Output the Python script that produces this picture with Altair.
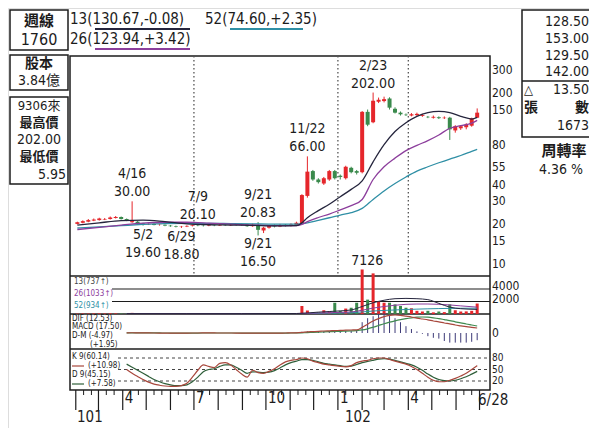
import altair as alt
import pandas as pd

OX, OY = 8, 8
NUM = "'Liberation Sans Narrow','Arial Narrow','DejaVu Sans Condensed','Noto Sans CJK TC',sans-serif"
CJK = "'Noto Sans CJK TC','Noto Sans CJK SC',sans-serif"
RED = "#e5262b"; GREEN = "#3a8a4c"; INK = "#1c1c1c"
C13 = "#25253d"; C26 = "#8c3e9c"; C52 = "#2f8fa5"
CDIF = "#a8473c"; CMACD = "#3f8a4f"; COSC = "#3d3a78"

START = pd.Timestamp("2012-01-31")
week_dates = pd.date_range("2012-02-03", periods=74, freq="7D")

opens = [20.2, 20.6, 21.0, 21.4, 21.6, 21.8, 22.0, 22.4, 22.8, 22.0,
         20.8, 21.0, 20.4, 20.0, 20.2, 19.8, 19.9, 19.6, 19.4, 19.2,
         19.3, 19.5, 19.7, 19.6, 19.5, 19.7, 19.6, 19.8, 19.7, 19.9,
         19.8, 20.0, 19.4, 19.8, 18.0, 18.9, 19.6, 19.3, 19.9, 19.5,
         19.8, 20.5, 33.0, 51.0, 44.0, 41.0, 44.0, 51.0, 47.0, 45.0,
         54.0, 51.0, 50.0, 144.0, 120.0, 172.0, 174.0, 182.0, 152.0, 142.0,
         137.0, 135.0, 136.0, 134.0, 132.0, 130.0, 131.0, 129.0, 130.0, 104.0,
         108.0, 110.0, 113.0, 130.0]
highs = [21.0, 21.5, 22.0, 22.2, 22.5, 22.4, 23.0, 23.2, 23.0, 22.2,
         30.0, 21.2, 20.6, 20.4, 20.4, 20.1, 20.0, 19.8, 19.6, 19.5,
         19.7, 19.9, 20.1, 19.8, 19.9, 19.9, 20.0, 20.0, 20.1, 20.1,
         20.3, 20.2, 20.3, 20.83, 19.2, 19.8, 20.0, 20.2, 20.1, 20.4,
         21.0, 34.0, 66.0, 52.0, 45.0, 46.0, 52.0, 52.0, 48.0, 56.0,
         55.0, 52.0, 146.0, 150.0, 202.0, 185.0, 188.0, 186.0, 156.0, 145.0,
         140.0, 141.0, 142.0, 139.0, 134.0, 135.0, 133.0, 133.0, 132.0, 114.0,
         114.0, 118.0, 130.0, 153.0]
lows = [20.0, 20.4, 20.8, 21.2, 21.4, 21.6, 21.8, 22.2, 21.8, 21.2,
        20.6, 20.2, 19.6, 19.8, 19.7, 19.6, 19.4, 19.2, 19.0, 18.8,
        19.1, 19.3, 19.4, 19.3, 19.4, 19.4, 19.5, 19.5, 19.5, 19.6,
        19.6, 19.2, 19.2, 16.5, 17.2, 18.6, 19.0, 19.1, 19.3, 19.3,
        19.6, 20.2, 32.0, 43.0, 41.0, 40.0, 43.0, 44.0, 44.0, 44.0,
        49.0, 48.0, 49.0, 112.0, 118.0, 168.0, 170.0, 150.0, 140.0, 135.0,
        134.0, 133.0, 134.0, 132.0, 129.0, 128.0, 127.0, 127.0, 88.0, 100.0,
        105.0, 106.0, 111.0, 129.5]
closes = [20.8, 21.2, 21.6, 21.8, 22.2, 22.0, 22.6, 22.8, 22.0, 21.4,
          21.2, 20.4, 20.0, 20.2, 19.8, 19.9, 19.6, 19.4, 19.2, 19.3,
          19.5, 19.7, 19.6, 19.5, 19.7, 19.6, 19.8, 19.7, 19.9, 19.8,
          20.0, 19.4, 19.9, 18.2, 18.9, 19.5, 19.3, 19.8, 19.5, 20.0,
          20.6, 33.5, 50.5, 44.0, 42.0, 45.0, 51.0, 45.0, 46.0, 55.0,
          50.0, 49.5, 144.0, 115.0, 175.0, 178.0, 180.0, 155.0, 142.0, 138.0,
          136.0, 138.0, 139.0, 136.0, 131.0, 132.0, 129.0, 130.0, 106.0, 112.0,
          112.0, 115.0, 128.5, 142.0]
volumes = [60, 80, 70, 90, 100, 80, 110, 90, 70, 60,
           180, 90, 70, 60, 50, 40, 50, 40, 30, 40,
           50, 40, 35, 30, 40, 45, 40, 35, 40, 50,
           45, 60, 50, 150, 90, 60, 50, 45, 55, 60,
           90, 1280, 560, 250, 250, 600, 420, 1800, 500, 870,
           1000, 1800, 7126, 2300, 6500, 2050, 1800, 1800, 1540, 1280,
           1000, 920, 510, 400, 510, 260, 400, 300, 1540, 600,
           400, 420, 510, 1673]

# moving averages (week index -> value)
ma_idx = [0, 4, 8, 12, 16, 20, 24, 28, 32, 36, 40, 41, 42, 44, 46, 48, 50, 52, 54, 56, 58, 60, 62, 64, 66, 68, 70, 72, 73]
ma13 = [19.8, 20.6, 21.4, 21.6, 21.0, 20.2, 19.9, 19.8, 19.7, 19.5, 19.6, 20.6, 22.5, 25.5, 28.5, 32.5, 37, 43, 60, 81, 102, 119, 133, 142, 145, 142, 133, 127, 130.67]
ma26 = [18.3, 19.0, 19.8, 20.5, 20.8, 20.8, 20.5, 20.1, 19.8, 19.6, 19.6, 20.0, 21.0, 22.6, 24.0, 25.8, 27.8, 31, 44, 55, 64, 73, 80, 87, 96, 108, 113, 118, 123.94]
ma52 = [18.8, 19.2, 19.6, 20.0, 20.3, 20.4, 20.4, 20.3, 20.2, 20.1, 20.1, 20.3, 20.6, 21.5, 22.5, 23.6, 24.6, 26.5, 31, 36, 41, 46, 51, 55, 59, 63, 67, 72, 74.60]

vma_idx = [9, 20, 30, 40, 44, 48, 50, 52, 54, 56, 58, 60, 62, 64, 66, 68, 70, 73]
vma13 = [60, 55, 60, 80, 300, 500, 650, 1200, 1800, 2200, 2450, 2500, 2450, 2300, 1700, 1100, 850, 737]
vma26 = [70, 65, 60, 70, 160, 260, 330, 600, 950, 1200, 1400, 1550, 1600, 1600, 1550, 1450, 1300, 1100]
vma52 = [80, 75, 70, 70, 110, 170, 210, 330, 480, 570, 650, 720, 780, 830, 870, 900, 920, 934]

IND_START = 9
dif = [0.5, 0.6, 0.4, 0.2, 0.1, 0, -0.1, -0.2, -0.3, -0.3, -0.2, -0.1, 0, 0, 0.1, 0.1,
       0.1, 0, 0, 0, -0.1, -0.1, -0.2, -0.3, -0.3, -0.2, -0.2, -0.1, -0.1, 0, 0.2, 0.5,
       1.5, 3, 3.5, 4, 5, 5.5, 6, 6.5, 7, 7.5, 8, 14, 22, 30, 36, 41, 44, 45, 44, 42,
       40, 37, 35, 33, 30, 28, 25, 23, 20, 18, 16, 14, 12.53]
macd = [0.4, 0.5, 0.5, 0.4, 0.3, 0.2, 0.1, 0, -0.1, -0.2, -0.2, -0.2, -0.1, -0.1, 0, 0,
        0, 0, 0, 0, 0, -0.1, -0.1, -0.2, -0.2, -0.2, -0.2, -0.2, -0.1, -0.1, 0, 0.1,
        0.4, 0.9, 1.5, 2, 2.6, 3.2, 3.8, 4.3, 4.9, 5.4, 6, 7.6, 10.5, 14.4, 18.7, 23, 27,
        30.5, 33.5, 36, 38, 39.5, 40, 39.5, 38, 36, 33.5, 31, 28, 25.5, 22.5, 20, 17.5]
OSC_START = 41
osc = [3, 4, 4, 4, 4, 4, 4, 4, 5, 5, 6, 27, 37, 42, 48, 50, 45, 37, 27, 17, 10, 4,
       -2, -8, -12, -14, -20, -24, -24, -24, -24, -22, -18]
k_vals = [50, 40, 32, 24, 17, 12, 9, 7, 6, 6, 8, 14, 30, 48, 62, 58, 55, 66, 68, 62,
          50, 38, 30, 48, 42, 40, 45, 52, 62, 70, 74, 76, 80, 78, 72, 68, 64, 62, 60, 58,
          57, 60, 68, 72, 74, 78, 80, 80, 76, 72, 68, 64, 58, 50, 40, 30, 22, 18, 18, 22,
          27, 33, 40, 50, 60.14]
d_vals = [64, 56, 48, 40, 32, 24, 18, 13, 10, 8, 8, 10, 18, 30, 44, 50, 52, 58, 62, 62,
          56, 48, 40, 44, 43, 42, 43, 47, 54, 62, 68, 72, 76, 76, 74, 70, 66, 64, 62, 60,
          58, 59, 63, 68, 71, 74, 77, 78, 77, 74, 70, 66, 62, 56, 48, 38, 30, 24, 21, 20,
          22, 26, 31, 38, 45.15]

# annotations: (week index, price, date text, value text)
high_notes = [(10, 30.0, "4/16", "30.00"), (22, 20.1, "7/9", "20.10"), (33, 20.83, "9/21", "20.83"),
              (42, 66.0, "11/22", "66.00"), (54, 202.0, "2/23", "202.00")]
low_notes = [(12, 19.6, "5/2", "19.60"), (19, 18.8, "6/29", "18.80"), (33, 16.5, "9/21", "16.50")]

price_ticks = [300, 200, 150, 80, 55, 40, 30, 20, 15, 10]
vol_ticks = [4000, 2000]
kd_ticks = [80, 50, 20]
month_labels = [("2012-04-01", "4"), ("2012-07-01", "7"), ("2012-10-01", "10"),
                ("2013-01-01", "1"), ("2013-04-01", "4")]
dotted_dates = ["2012-07-01", "2013-01-01", "2013-04-01"]

# ---------------------------------------------------------------- data frames
days = [(d - START).days for d in week_dates]
cdf = pd.DataFrame({"day": days, "o": opens, "h": highs, "l": lows, "c": closes, "v": volumes})
cdf["col"] = [RED if c >= o else GREEN for o, c in zip(opens, closes)]
cdf["zero"] = 0

madf = pd.DataFrame({"day": [days[i] for i in ma_idx], "m13": ma13, "m26": ma26, "m52": ma52})
vmadf = pd.DataFrame({"day": [days[i] for i in vma_idx], "m13": vma13, "m26": vma26, "m52": vma52})
inddf = pd.DataFrame({"day": days[IND_START:], "dif": dif, "macd": macd, "k": k_vals, "d": d_vals})
oscdf = pd.DataFrame({"day": days[OSC_START:], "osc": osc, "zero": 0})
hidf = pd.DataFrame({"day": [days[i] for i, _, _, _ in high_notes], "p": [p for _, p, _, _ in high_notes],
                     "t1": [a for _, _, a, _ in high_notes], "t2": [b for _, _, _, b in high_notes]})
lodf = pd.DataFrame({"day": [days[i] for i, _, _, _ in low_notes], "p": [p for _, p, _, _ in low_notes],
                     "t1": [a for _, _, a, _ in low_notes], "t2": [b for _, _, _, b in low_notes]})
ptdf = pd.DataFrame({"p": price_ticks, "t": [str(v) for v in price_ticks]})
vtdf = pd.DataFrame({"v": vol_ticks, "t": [str(v) for v in vol_ticks]})
ktdf = pd.DataFrame({"k": kd_ticks, "t": [str(v) for v in kd_ticks]})
mdf = pd.DataFrame({"day": [(pd.Timestamp(d) - START).days for d, _ in month_labels],
                    "t": [t for _, t in month_labels]})
dotdf = pd.DataFrame({"day": [(pd.Timestamp(d) - START).days for d in dotted_dates]})
mstarts = pd.date_range("2012-02-01", "2013-07-01", freq="MS")
longdf = pd.DataFrame({"day": [(d - START).days for d in mstarts]})
shortdf = pd.DataFrame({"day": [(d - START).days + off for d in mstarts.insert(0, pd.Timestamp("2012-01-01"))
                                for off in (10, 20) if 0 <= (d - START).days + off <= 524]})
peakdf = pd.DataFrame({"day": [days[52]], "v": [7126], "t": ["7126"]})

# ---------------------------------------------------------------- scales
X = alt.Scale(domain=[0, 524], range=[70 - OX, 490 - OX], nice=False, zero=False)
YP = alt.Scale(type="log", domain=[10, 300], range=[264 - OY, 70 - OY], nice=False)
YV = alt.Scale(domain=[0, 4000], range=[314 - OY, 289 - OY], nice=False, zero=False)
YM = alt.Scale(domain=[0, 40], range=[333 - OY, 317 - OY], nice=False, zero=False)
YK = alt.Scale(domain=[20, 80], range=[381 - OY, 358 - OY], nice=False, zero=False)

def xq(f="day"):
    return alt.X(f + ":Q", scale=X, axis=None)

def yq(f, s):
    return alt.Y(f + ":Q", scale=s, axis=None)

one = pd.DataFrame({"k": [0]})

def txt(s, x, y, size=15, align="left", color=INK, font=NUM, weight="normal"):
    return alt.Chart(one).mark_text(text=s, align=align, baseline="middle", fontSize=size,
                                    font=font, color=color, fontWeight=weight).encode(
        x=alt.value(x - OX), y=alt.value(y - OY))

def hline(x1, x2, y, color=INK, w=1.3):
    return alt.Chart(one).mark_rule(color=color, strokeWidth=w).encode(
        x=alt.value(x1 - OX), x2=alt.value(x2 - OX), y=alt.value(y - OY))

def box(x1, y1, x2, y2, w=1.5):
    return alt.Chart(one).mark_rect(fillOpacity=0, stroke=INK, strokeWidth=w).encode(
        x=alt.value(x1 - OX), x2=alt.value(x2 - OX), y=alt.value(y1 - OY), y2=alt.value(y2 - OY))

layers = []

# frames
layers += [box(70, 56, 490, 390), hline(70, 490, 276), hline(70, 490, 314), hline(70, 490, 349)]

# dotted verticals
layers.append(alt.Chart(dotdf).mark_rule(color="#555", strokeWidth=1.3, strokeDash=[1.5, 2.5]).encode(
    x=xq(), y=alt.value(56 - OY), y2=alt.value(276 - OY)))

# candles
layers.append(alt.Chart(cdf).mark_rule(strokeWidth=1).encode(
    x=xq(), y=yq("l", YP), y2="h:Q", color=alt.Color("col:N", scale=None)))
layers.append(alt.Chart(cdf).mark_bar(size=4).encode(
    x=xq(), y=yq("o", YP), y2="c:Q", color=alt.Color("col:N", scale=None)))

# moving averages
for f, col in (("m52", C52), ("m26", C26), ("m13", C13)):
    layers.append(alt.Chart(madf).mark_line(color=col, strokeWidth=1.3, interpolate="monotone").encode(
        x=xq(), y=yq(f, YP)))

# annotations
for df, d1, d2 in ((hidf, -27, -9), (lodf, 9, 27)):
    layers.append(alt.Chart(df).mark_text(fontSize=14, font=NUM, color=INK, dy=d1, baseline="middle").encode(
        x=xq(), y=yq("p", YP), text="t1:N"))
    layers.append(alt.Chart(df).mark_text(fontSize=14, font=NUM, color=INK, dy=d2, baseline="middle").encode(
        x=xq(), y=yq("p", YP), text="t2:N"))

# right price labels
layers.append(alt.Chart(ptdf).mark_text(fontSize=12, font=NUM, color=INK, align="left", baseline="middle").encode(
    x=alt.value(492 - OX), y=yq("p", YP), text="t:N"))

# volume
layers.append(alt.Chart(vtdf).mark_rule(color=INK, strokeWidth=1.2).encode(
    x=alt.value(112 - OX), x2=alt.value(490 - OX), y=yq("v", YV)))
layers.append(alt.Chart(cdf).mark_bar(size=3).encode(
    x=xq(), y=yq("v", YV), y2="zero:Q", color=alt.Color("col:N", scale=None)))
for f, col in (("m52", C52), ("m26", C26), ("m13", C13)):
    layers.append(alt.Chart(vmadf).mark_line(color=col, strokeWidth=1, interpolate="monotone").encode(
        x=xq(), y=yq(f, YV)))
layers.append(alt.Chart(vtdf).mark_text(fontSize=12, font=NUM, color=INK, align="left", baseline="middle", dy=-3).encode(
    x=alt.value(492 - OX), y=yq("v", YV), text="t:N"))
layers.append(alt.Chart(peakdf).mark_text(fontSize=14, font=NUM, color=INK, dy=-8, dx=5, baseline="middle").encode(
    x=xq(), y=yq("v", YV), text="t:N"))
layers += [txt("13(737↑)", 74, 282, 8, color="#444"), txt("26(1033↑)", 74, 294, 8, color=C26),
           txt("52(934↑)", 74, 306, 8, color=C52)]

# MACD
layers.append(alt.Chart(oscdf).mark_rule(color=COSC, strokeWidth=1).encode(
    x=xq(), y=yq("zero", YM), y2="osc:Q"))
layers.append(alt.Chart(inddf).mark_line(color=CMACD, strokeWidth=1.2, interpolate="monotone").encode(
    x=xq(), y=yq("macd", YM)))
layers.append(alt.Chart(inddf).mark_line(color=CDIF, strokeWidth=1.2, interpolate="monotone").encode(
    x=xq(), y=yq("dif", YM)))
layers += [txt("DIF  (12.53)", 72, 319, 8), txt("MACD (17.50)", 72, 327, 8),
           txt("D-M  (-4.97)", 72, 336, 8), txt("(+1.95)", 90, 345, 8), txt("0", 492, 333, 12)]

# KD
layers.append(alt.Chart(ktdf).mark_rule(color="#444", strokeWidth=1, strokeDash=[3, 3]).encode(
    x=alt.value(118 - OX), x2=alt.value(490 - OX), y=yq("k", YK)))
layers.append(alt.Chart(inddf).mark_line(color="#2f5f3a", strokeWidth=1.2, interpolate="monotone").encode(
    x=xq(), y=yq("d", YK)))
layers.append(alt.Chart(inddf).mark_line(color=CDIF, strokeWidth=1.2, interpolate="monotone").encode(
    x=xq(), y=yq("k", YK)))
layers.append(alt.Chart(ktdf).mark_text(fontSize=10, font=NUM, color=INK, align="left", baseline="middle").encode(
    x=alt.value(492 - OX), y=yq("k", YK), text="t:N"))
layers += [txt("K   9(60.14)", 72, 357, 8), hline(72, 84, 366, CDIF, 1.2), txt("(+10.98)", 88, 366, 8),
           txt("D   9(45.15)", 72, 375, 8), hline(72, 84, 384, "#2f5f3a", 1.2), txt("(+7.58)", 88, 384, 8)]

# x axis
layers.append(alt.Chart(longdf).mark_rule(color=INK, strokeWidth=1.2).encode(
    x=xq(), y=alt.value(390 - OY), y2=alt.value(410 - OY)))
layers.append(alt.Chart(shortdf).mark_rule(color=INK, strokeWidth=1).encode(
    x=xq(), y=alt.value(390 - OY), y2=alt.value(395 - OY)))
layers.append(alt.Chart(mdf).mark_text(fontSize=15, font=NUM, color=INK, align="left", baseline="middle", dx=2).encode(
    x=xq(), y=alt.value(398 - OY), text="t:N"))
layers += [txt("101", 77, 417, 15), txt("102", 345, 417, 15), txt("6/28", 478, 400, 15)]

# header
layers += [box(10, 10, 68, 50), txt("週線", 39, 21, 15, "center", font=CJK, weight="bold"),
           txt("1760", 39, 40, 16, "center"),
           txt("13(130.67,-0.08)", 70, 19, 15), txt("26(123.94,+3.42)", 70, 39, 15),
           txt("52(74.60,+2.35)", 205, 19, 15),
           hline(95, 190, 29, C13, 2), hline(95, 190, 49, C26, 2), hline(230, 303, 29, C52, 2)]

# left boxes
layers += [box(10, 55, 68, 90), txt("股本", 39, 64, 14, "center", font=CJK, weight="bold"),
           txt("3.84億", 39, 81, 14, "center"),
           box(10, 97, 68, 184), txt("9306來", 39, 106, 13, "center"),
           txt("最高價", 39, 123, 13, "center", font=CJK, weight="bold"),
           txt("202.00", 39, 140, 14, "center"),
           txt("最低價", 39, 157, 13, "center", font=CJK, weight="bold"),
           txt("5.95", 66, 175, 14, "right")]

# right box
layers += [box(522, 10, 593, 137), hline(522, 593, 81, INK, 1.5)]
for s, y in (("128.50", 22), ("153.00", 39), ("129.50", 56), ("142.00", 72), ("13.50", 90), ("1673", 126)):
    layers.append(txt(s, 589, y, 14, "right"))
layers += [txt("△", 524, 90, 13), txt("張", 524, 108, 14, font=CJK, weight="bold"),
           txt("數", 589, 108, 14, "right", font=CJK, weight="bold"),
           txt("周轉率", 564, 151, 15, "center", font=CJK, weight="bold"),
           txt("4.36 %", 561, 170, 14, "center")]

chart = alt.layer(*layers).resolve_scale(y="independent").properties(
    width=581, height=420, padding=0, autosize=alt.AutoSizeParams(type="none")
).configure_view(strokeWidth=0).configure(background="white")

chart.save("out.html", embed_options={"renderer": "svg", "actions": False})
